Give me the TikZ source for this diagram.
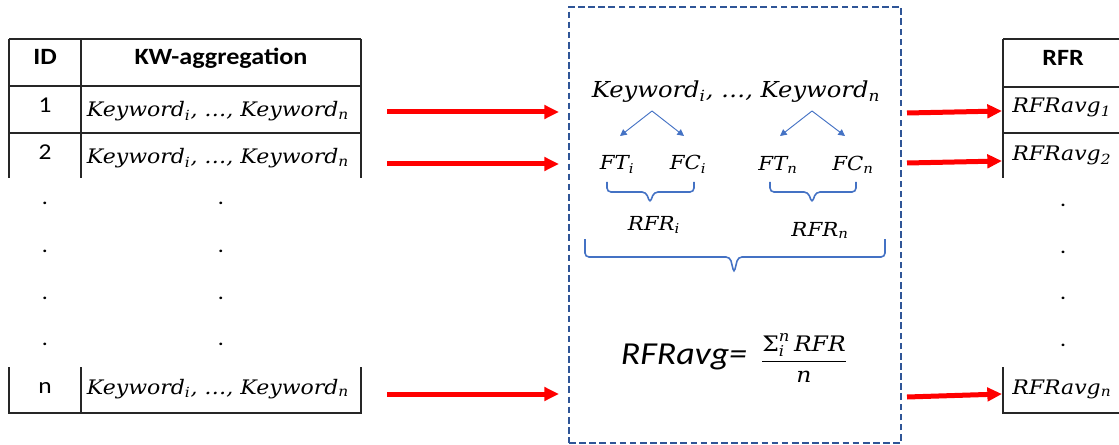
\documentclass[tikz,border=0pt]{standalone}
\usepackage{fontspec}
\usepackage{amsmath}
\setmainfont{Carlito}[FakeStretch=1.12]
\newfontfamily\mfont{DejaVu Serif}[FakeStretch=1.1]
\usetikzlibrary{arrows.meta,calc}

\definecolor{framecol}{HTML}{2F5597}
\definecolor{accent}{HTML}{4472C4}
\definecolor{flow}{HTML}{FF0000}

% italic serif variable text with a text-style subscript
\newcommand\mv[1]{{\mfont\itshape #1}}
\newcommand\sbs[1]{$_{\text{#1}}$}
\newcommand\kwlist{\mv{Keyword\sbs{i}, …, Keyword\sbs{n}}}

% curly brace opening upwards: x-left, x-right, x-tip, y-top, y-bar, y-tip
\newcommand\upbrace[6]{%
  \draw[bracestyle] (#1,#4) -- (#1,#5) -- (#3-4,#5) -- (#3,#6) -- (#3+4,#5) -- (#2,#5) -- (#2,#4);}

\begin{document}
\begin{tikzpicture}[x=0.75pt,y=-0.75pt,
  rule/.style={line width=1pt,black!85},
  hdr/.style={font=\fontsize{17.5}{20}\selectfont\bfseries,inner sep=0pt,anchor=base},
  num/.style={font=\fontsize{17}{20}\selectfont,inner sep=0pt,anchor=base},
  kwtab/.style={font=\fontsize{15}{18}\selectfont,inner sep=0pt,anchor=base},
  kwbox/.style={font=\fontsize{16.5}{20}\selectfont,inner sep=0pt,anchor=base},
  var/.style={font=\fontsize{14.5}{18}\selectfont,inner sep=0pt,anchor=base},
  rfrcell/.style={font=\fontsize{15}{18}\selectfont,inner sep=0pt,anchor=base west},
  dotnode/.style={font=\fontsize{16}{18}\selectfont,inner sep=0pt},
  redarrow/.style={draw=flow,line width=3.75pt,-{Triangle[length=11pt,width=10pt]}},
  bluearrow/.style={draw=accent,line width=0.7pt,-{Triangle[length=5pt,width=5pt]}},
  bracestyle/.style={draw=accent,line width=1.2pt,rounded corners=3pt},
  frame/.style={draw=framecol,line width=1.1pt,dash pattern=on 5pt off 2.6pt}]

\useasboundingbox (0,0) rectangle (1119,445);

% ---------- input table ----------
\draw[rule] (9,39) -- (361,39);
\draw[rule] (9,86) -- (361,86);
\draw[rule] (9,133) -- (361,133);
\draw[rule] (9,39) -- (9,178);
\draw[rule] (81,39) -- (81,178);
\draw[rule] (361,39) -- (361,178);
\draw[rule] (9,367) -- (9,413) -- (361,413) -- (361,367);
\draw[rule] (81,367) -- (81,413);

\node[hdr] (idh) at (45,65) {ID};
\node[hdr] (kwh) at (221,65) {KW-aggregation};
\node[num] (id1) at (45,113) {1};
\node[kwtab] (kw1) at (218,117) {\kwlist};
\node[num] (id2) at (45,160) {2};
\node[kwtab] (kw2) at (218,164) {\kwlist};
\node[num] (idn) at (45,393) {n};
\node[kwtab] (kwn) at (218,394) {\kwlist};

\foreach \y [count=\k] in {203,251,298,344}{
  \node[dotnode] (ld\k) at (45,\y) {.};
  \node[dotnode] (kd\k) at (221,\y) {.};
}

% ---------- processing frame ----------
\node[frame,minimum width=249pt,minimum height=327pt,inner sep=0pt] (proc) at (735,225) {};

\node[kwbox] (kwc) at (736,98) {\kwlist};
\node[var] (fti) at (617,170) {\mv{FT\sbs{i}}};
\node[var] (fci) at (688,170) {\mv{FC\sbs{i}}};
\node[var] (ftn) at (778,171) {\mv{FT\sbs{n}}};
\node[var] (fcn) at (853,171) {\mv{FC\sbs{n}}};
\node[var] (rfri) at (654,230) {\mv{RFR\sbs{i}}};
\node[var] (rfrn) at (820,236) {\mv{RFR\sbs{n}}};

\coordinate (api) at (652,111);
\coordinate (apn) at (812,111);
\coordinate (fti-in) at (620,136);
\coordinate (fci-in) at (684,136);
\coordinate (ftn-in) at (780,136);
\coordinate (fcn-in) at (845,136);
\draw[bluearrow] (api) -- (fti-in);
\draw[bluearrow] (api) -- (fci-in);
\draw[bluearrow] (apn) -- (ftn-in);
\draw[bluearrow] (apn) -- (fcn-in);

\upbrace{607}{694}{650}{182}{192}{203}
\upbrace{770}{856}{812}{182}{192}{203}
\upbrace{585}{885}{734}{239}{257}{273}

\node[font=\fontsize{24}{28}\selectfont\itshape,inner sep=0pt,anchor=base] (avg) at (684,364) {RFRavg=};
\node[font=\fontsize{16}{19}\selectfont,inner sep=0pt] (frac) at (804,358)
  {\mv{$\dfrac{\text{\upshape Σ}^{\text{n}}_{\text{i}}\,\text{RFR}}{\text{n}}$}};

% ---------- result table ----------
\draw[rule] (1003,39) -- (1119,39);
\draw[rule] (1003,87) -- (1119,87);
\draw[rule] (1003,133) -- (1119,133);
\draw[rule] (1003,39) -- (1003,178);
\draw[rule] (1003,367) -- (1003,413) -- (1119,413);

\node[hdr] (rfrh) at (1063,66) {RFR};
\node[rfrcell] (out1) at (1012,113) {\mv{RFRavg\sbs{1}}};
\node[rfrcell] (out2) at (1012,161) {\mv{RFRavg\sbs{2}}};
\node[rfrcell] (outn) at (1012,394) {\mv{RFRavg\sbs{n}}};
\foreach \y [count=\k] in {205,252,298,345}{
  \node[dotnode] (rd\k) at (1063,\y) {.};
}

% ---------- flow arrows ----------
\coordinate (in1) at (387,112);
\coordinate (in2) at (387,164);
\coordinate (inn) at (387,394);
\draw[redarrow,shorten >=7pt] (in1) -- (in1 -| proc.west);
\draw[redarrow,shorten >=7pt] (in2) -- (in2 -| proc.west);
\draw[redarrow,shorten >=7pt] (inn) -- (inn -| proc.west);

\coordinate (o1s) at (907,113);
\coordinate (o1e) at (1002,111);
\coordinate (o2s) at (907,163);
\coordinate (o2e) at (1002,161);
\coordinate (ons) at (907,397);
\coordinate (one) at (1002,394);
\draw[redarrow] (o1s) -- (o1e);
\draw[redarrow] (o2s) -- (o2e);
\draw[redarrow] (ons) -- (one);
\end{tikzpicture}
\end{document}
